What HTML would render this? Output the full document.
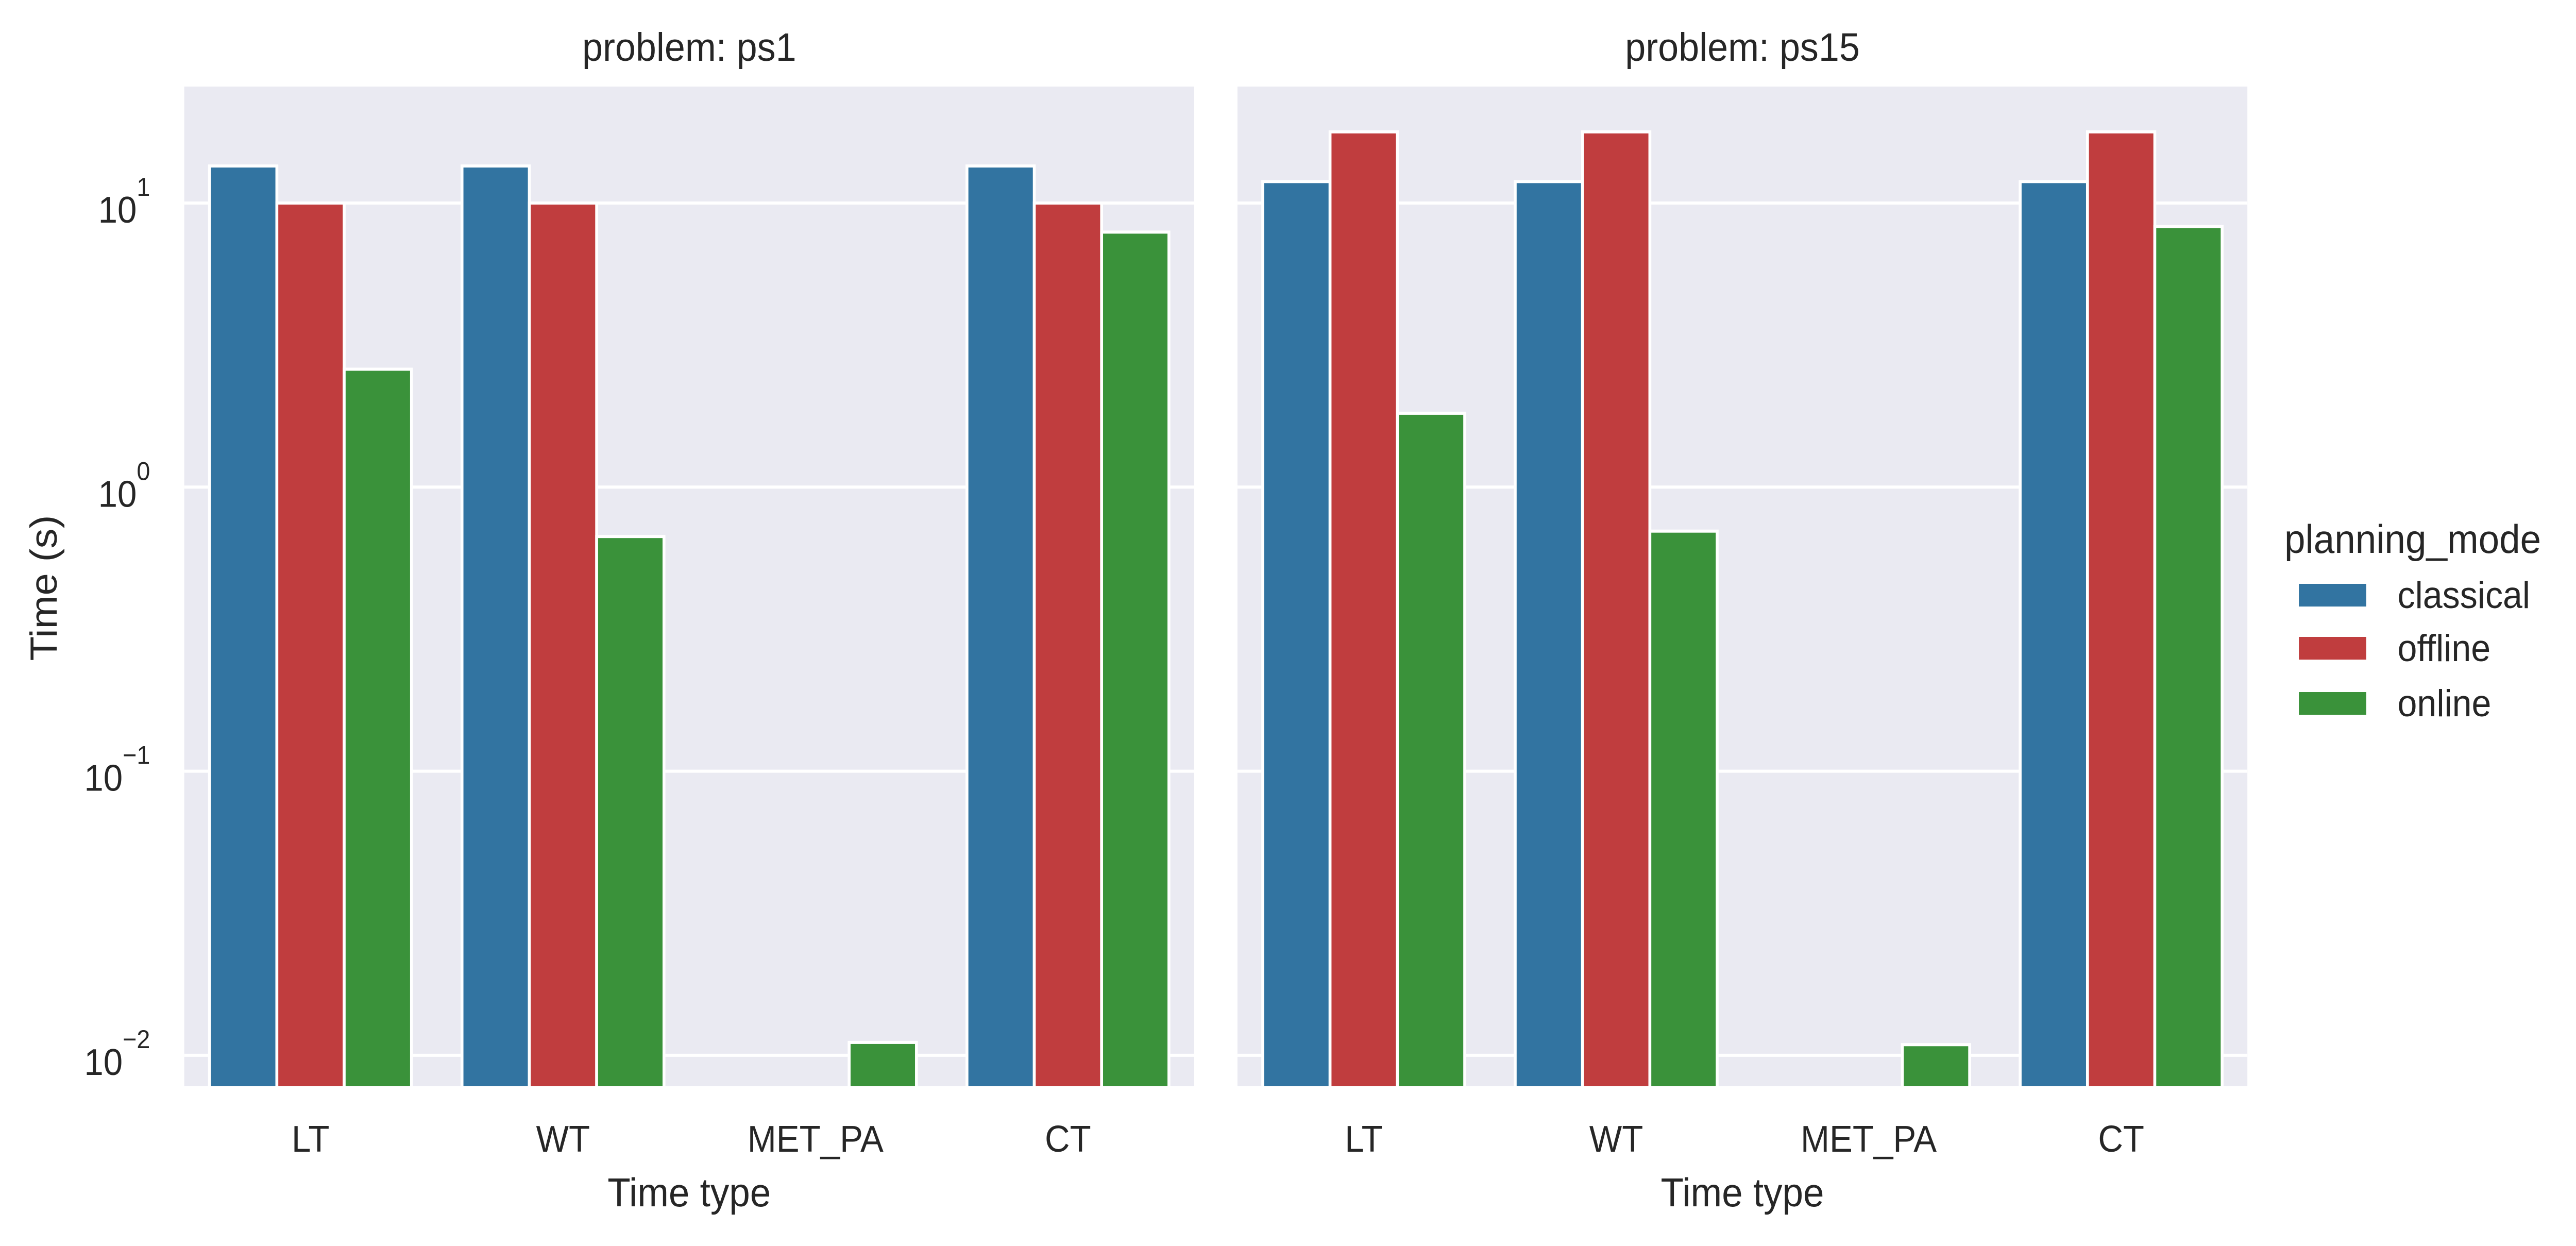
<!DOCTYPE html>
<html><head><meta charset="utf-8">
<style>
html,body{margin:0;padding:0;background:#fff;width:100%;height:100%;overflow:hidden}
svg{display:block;position:fixed;left:0;top:0;width:100vw;height:100vh}
text{font-family:"Liberation Sans",sans-serif;fill:#262626}
</style></head><body>
<svg id="chart" viewBox="0 0 5354 2418" preserveAspectRatio="none" xmlns="http://www.w3.org/2000/svg"></svg>
<script>
const categories = ["LT","WT","MET_PA","CT"];
const series = ["classical","offline","online"];
const panelTitles = ["problem: ps1","problem: ps15"];
const ps1Classical = [13.5, 13.5, null, 13.5];
const ps1Offline = [10.0, 10.0, null, 10.0];
const ps1Online = [2.6, 0.67, 0.0111, 7.9];
const ps15Classical = [11.9, 11.9, null, 11.9];
const ps15Offline = [17.8, 17.8, null, 17.8];
const ps15Online = [1.82, 0.70, 0.0109, 8.26];
const yTickExps = [1, 0, -1, -2];
const yTickSup = ["1","0","\u22121","\u22122"];

const colors = ["#3274a1","#c03d3e","#3a923a"];
const NS = "http://www.w3.org/2000/svg";
const svg = document.getElementById("chart");
const panels = [{x0:383, data:[ps1Classical,ps1Offline,ps1Online]},{x0:2572, data:[ps15Classical,ps15Offline,ps15Online]}];
const PW = 2099, TOP = 168, BOT = 2108;
const Y10 = 394, DEC = 551.3;
function yScale(v){ return Y10 - (Math.log10(v) - 1) * DEC; }
function xCenter(p, i){ return p.x0 + PW * (i + 0.5) / categories.length; }
const barW = 0.8 * (PW / categories.length) / series.length;
function mk(tag, attrs, parent){ const e = document.createElementNS(NS, tag); for (const k in attrs) e.setAttribute(k, attrs[k]); (parent||svg).appendChild(e); return e; }

panels.forEach((p, pi) => {
  const g = mk("g", {});
  
  
  const bg = mk("rect", {x:p.x0, y:TOP, width:PW, height:BOT-TOP, fill:"#eaeaf2"}, g);
  
  
  yTickExps.forEach(e => {
    const y = yScale(Math.pow(10, e));
    const gl = mk("line", {x1:p.x0, x2:p.x0+PW, y1:y, y2:y, stroke:"#fff", "stroke-width":6}, g);
    
    
  });
  p.data.forEach((arr, si) => {
    arr.forEach((v, ci) => {
      if (v == null) return;
      const cx = xCenter(p, ci) + (si - 1) * barW;
      const yt = yScale(v);
      const r = mk("rect", {x:cx-barW/2, y:yt, width:barW, height:BOT-yt+10, fill:colors[si], stroke:"#fff", "stroke-width":6}, g);
      
      
    });
  });
  const cover = mk("rect", {x:p.x0-10, y:BOT, width:PW+20, height:40, fill:"#fff"}, g);
  
  
  categories.forEach((c, ci) => {
    const t = mk("text", {x:xCenter(p, ci), y:2235, "font-size":72, "text-anchor":"middle"}, g);
    t.textContent = c;
    
    
  });
  const xl = mk("text", {x:p.x0+PW/2, y:2341, "font-size":78, "text-anchor":"middle"}, g);
  xl.textContent = "Time type";
  
  
  const tt = mk("text", {x:p.x0+PW/2, y:118, "font-size":77, "text-anchor":"middle"}, g);
  tt.textContent = panelTitles[pi];
  
  
});

yTickExps.forEach((e, i) => {
  const y = yScale(Math.pow(10, e));
  const t = mk("text", {x:312, y:y+38, "font-size":72, "text-anchor":"end"});
  const a = document.createElementNS(NS, "tspan"); a.textContent = "10"; t.appendChild(a);
  const b = document.createElementNS(NS, "tspan"); b.setAttribute("font-size", 50); b.setAttribute("dy", -52); b.textContent = yTickSup[i]; t.appendChild(b);
  
  
});
const yl = mk("text", {x:0, y:0, "font-size":78, "text-anchor":"middle", transform:"translate(118,1141) rotate(-90)"});
yl.textContent = "Time (s)";



const lg = mk("g", {});


const lt = mk("text", {x:4748, y:1073, "font-size":78}, lg);
lt.textContent = "planning_mode";


const legY = [1155, 1258, 1365];
series.forEach((s, i) => {
  const r = mk("rect", {x:4778, y:legY[i]-22, width:140, height:44, fill:colors[i]}, lg);
  
  
  const t = mk("text", {x:4983, y:legY[i]+25, "font-size":73}, lg);
  t.textContent = s;
  
  
});
</script>
</body></html>
